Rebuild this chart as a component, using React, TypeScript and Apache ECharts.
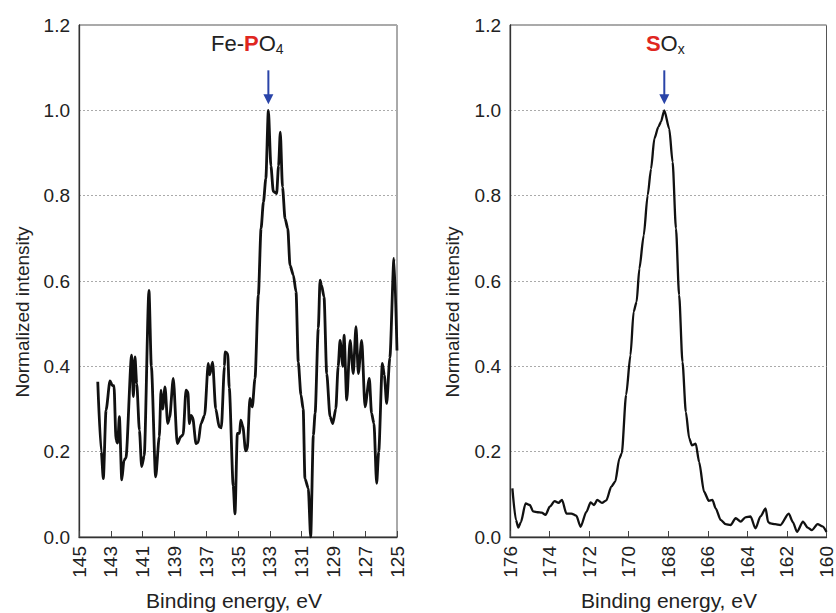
import React, { useEffect, useRef } from "react";
import * as echarts from "echarts";

// Fe-PO4 (P 2p region)
const LEFT_ENERGY = [
  143.82, 143.6, 143.47, 143.3, 143.05, 142.9, 142.8, 142.67, 142.57, 142.46,
  142.31, 142.17, 142.05, 141.69, 141.58, 141.48, 141.37, 141.2, 141.06, 140.9,
  140.6, 140.45, 140.18, 139.95, 139.84, 139.74, 139.59, 139.42, 139.3, 139.07,
  138.82, 138.6, 138.45, 138.27, 138.15, 138.06, 137.95, 137.85, 137.64, 137.5,
  137.33, 137.1, 136.87, 136.78, 136.6, 136.4, 136.18, 136.05, 135.85, 135.82,
  135.65, 135.55, 135.3, 135.19, 135.04, 134.9, 134.83, 134.7, 134.52, 134.42,
  134.25, 134.1, 133.93, 133.72, 133.55, 133.4, 133.25, 133.09, 132.93, 132.78,
  132.57, 132.45, 132.34, 132.2, 132.04, 131.87, 131.73, 131.52, 131.35, 131.21,
  131.04, 130.9, 130.79, 130.58, 130.43, 130.26, 130.15, 129.95, 129.84, 129.75,
  129.59, 129.42, 129.21, 129.04, 128.85, 128.7, 128.58, 128.4, 128.33, 128.16,
  127.95, 127.75, 127.58, 127.43, 127.22, 127.01, 126.74, 126.6, 126.45, 126.28,
  126.15, 125.92, 125.8, 125.65, 125.45, 125.19, 125.0,
];
const LEFT_INTENSITY = [
  0.364, 0.2, 0.137, 0.297, 0.366, 0.355, 0.355, 0.227, 0.22, 0.282,
  0.134, 0.18, 0.185, 0.426, 0.329, 0.422, 0.36, 0.25, 0.165, 0.19,
  0.578, 0.4, 0.141, 0.235, 0.344, 0.3, 0.352, 0.266, 0.28, 0.372,
  0.219, 0.235, 0.24, 0.344, 0.34, 0.266, 0.285, 0.28, 0.219, 0.222,
  0.266, 0.285, 0.407, 0.38, 0.41, 0.3, 0.258, 0.256, 0.4, 0.434,
  0.43, 0.35, 0.12, 0.054, 0.243, 0.243, 0.274, 0.26, 0.202, 0.205,
  0.325, 0.305, 0.372, 0.567, 0.723, 0.785, 0.84, 1.0, 0.87, 0.81,
  0.805, 0.87, 0.949, 0.82, 0.746, 0.723, 0.637, 0.614, 0.575, 0.41,
  0.333, 0.3, 0.137, 0.114, 0.0, 0.239, 0.29, 0.489, 0.602, 0.59,
  0.563, 0.383, 0.282, 0.266, 0.3, 0.4, 0.461, 0.4, 0.473, 0.321,
  0.461, 0.383, 0.493, 0.383, 0.461, 0.305, 0.372, 0.29, 0.266, 0.126,
  0.2, 0.407, 0.38, 0.313, 0.42, 0.653, 0.437,
];

// SOx (S 2p region)
const RIGHT_ENERGY = [
  175.88, 175.7, 175.58, 175.45, 175.21, 175.0, 174.83, 174.6, 174.4, 174.2,
  173.99, 173.74, 173.55, 173.37, 173.15, 172.9, 172.65, 172.43, 172.14, 171.92,
  171.75, 171.59, 171.35, 171.13, 170.88, 170.68, 170.47, 170.35, 170.13, 169.91,
  169.75, 169.6, 169.46, 169.24, 169.04, 168.87, 168.7, 168.5, 168.37, 168.2,
  167.95, 167.78, 167.61, 167.45, 167.28, 167.11, 166.94, 166.8, 166.61, 166.44,
  166.19, 165.95, 165.77, 165.6, 165.35, 165.1, 164.85, 164.59, 164.34, 164.1,
  163.84, 163.59, 163.34, 163.08, 162.95, 162.83, 162.6, 162.33, 161.91, 161.7,
  161.49, 161.19, 160.95, 160.74, 160.45, 160.2, 160.0,
];
const RIGHT_INTENSITY = [
  0.114, 0.04, 0.022, 0.035, 0.079, 0.075, 0.06, 0.058, 0.057, 0.052,
  0.071, 0.084, 0.08, 0.087, 0.055, 0.055, 0.05, 0.024, 0.059, 0.081,
  0.075, 0.087, 0.08, 0.086, 0.118, 0.13, 0.184, 0.196, 0.333, 0.426,
  0.528, 0.551, 0.629, 0.707, 0.801, 0.863, 0.934, 0.961, 0.973, 1.0,
  0.957, 0.879, 0.723, 0.567, 0.41, 0.293, 0.231, 0.215, 0.219, 0.176,
  0.106, 0.085, 0.087, 0.067, 0.04, 0.03, 0.028, 0.044, 0.036, 0.046,
  0.048, 0.02, 0.048, 0.067, 0.035, 0.032, 0.03, 0.028, 0.055, 0.035,
  0.012, 0.036, 0.022, 0.016, 0.03, 0.025, 0.012,
];

const LEFT_RANGE = [125, 145];
const RIGHT_RANGE = [160, 176];
const Y_RANGE = [0, 1.2];
const LEFT_PEAK = [133.09, 1.0];
const RIGHT_PEAK = [168.2, 1.0];
const X_NAME = "Binding energy, eV";
const Y_NAME = "Normalized intensity";

const FONT = "'Liberation Sans', Arial, Helvetica, sans-serif";
const RED = "#e0261f";
const BLUE = "#2a44a8";

export default function App() {
  const ref = useRef<HTMLDivElement>(null);

  useEffect(() => {
    if (!ref.current) return;
    const chart = echarts.init(ref.current, null, { renderer: "svg" });

    const xAxis = (range: number[], gridIndex: number) => ({
      type: "value",
      gridIndex,
      min: range[0],
      max: range[1],
      interval: 2,
      inverse: true,
      axisLine: { show: true, lineStyle: { color: "#333", width: 1.3 } },
      axisTick: { show: true, inside: true, length: 6, lineStyle: { color: "#444", width: 1 } },
      axisLabel: {
        rotate: 90,
        margin: 9,
        fontSize: 19,
        color: "#222",
        fontFamily: FONT,
      },
      splitLine: { show: false },
    });

    const yAxis = (gridIndex: number) => ({
      type: "value",
      gridIndex,
      min: Y_RANGE[0],
      max: Y_RANGE[1],
      interval: 0.2,
      axisLine: { show: true, lineStyle: { color: "#333", width: 1.3 } },
      axisTick: { show: false },
      axisLabel: {
        margin: 9,
        fontSize: 19,
        color: "#222",
        fontFamily: FONT,
        formatter: (v: number) => v.toFixed(1),
      },
      splitLine: { show: true, lineStyle: { color: "#aaa", type: [2, 2], width: 1 } },
    });

    const gridBase = { top: 25, height: 512, width: 318, show: true, borderColor: "#555", borderWidth: 1, backgroundColor: "transparent" };

    chart.setOption({
      animation: false,
      textStyle: { fontFamily: FONT },
      grid: [
        { ...gridBase, left: 79 },
        { ...gridBase, left: 510 },
      ],
      xAxis: [xAxis(LEFT_RANGE, 0), xAxis(RIGHT_RANGE, 1)],
      yAxis: [yAxis(0), yAxis(1)],
      series: [
        {
          type: "line",
          xAxisIndex: 0,
          yAxisIndex: 0,
          data: LEFT_ENERGY.map((e, i) => [e, LEFT_INTENSITY[i]]),
          showSymbol: false,
          smooth: 0.25,
          smoothMonotone: "x",
          lineStyle: { color: "#111", width: 2.8 },
        },
        {
          type: "line",
          xAxisIndex: 1,
          yAxisIndex: 1,
          data: RIGHT_ENERGY.map((e, i) => [e, RIGHT_INTENSITY[i]]),
          showSymbol: false,
          smooth: 0.25,
          smoothMonotone: "x",
          lineStyle: { color: "#111", width: 2.3 },
        },
      ],
    });

    const lp = chart.convertToPixel({ gridIndex: 0 }, LEFT_PEAK) as number[];
    const rp = chart.convertToPixel({ gridIndex: 1 }, RIGHT_PEAK) as number[];

    const arrow = (p: number[]) => [
      {
        type: "line",
        shape: { x1: p[0], y1: p[1] - 40, x2: p[0], y2: p[1] - 14 },
        style: { stroke: BLUE, lineWidth: 2 },
      },
      {
        type: "polygon",
        shape: { points: [[p[0] - 5, p[1] - 16], [p[0] + 5, p[1] - 16], [p[0], p[1] - 6]] },
        style: { fill: BLUE },
      },
    ];

    const richStyle = {
      n: { fontSize: 22, lineHeight: 26, fill: "#222", fontWeight: "normal", fontFamily: FONT, verticalAlign: "middle" },
      p: { fontSize: 22, lineHeight: 26, fill: RED, fontWeight: "bold", fontFamily: FONT, verticalAlign: "middle" },
      s: { fontSize: 14, lineHeight: 14, fill: "#222", fontWeight: "normal", fontFamily: FONT, verticalAlign: "bottom" },
    };

    chart.setOption({
      graphic: [
        ...arrow(lp),
        ...arrow(rp),
        {
          type: "text",
          x: lp[0] - 21,
          y: 30,
          style: { text: "{n|Fe-}{p|P}{n|O}{s|4}", rich: richStyle, align: "center", verticalAlign: "top" },
        },
        {
          type: "text",
          x: rp[0] + 1,
          y: 30,
          style: { text: "{p|S}{n|O}{s|x}", rich: richStyle, align: "center", verticalAlign: "top" },
        },
        {
          type: "text",
          x: 22,
          y: 312,
          rotation: Math.PI / 2,
          style: { text: Y_NAME, fontSize: 19, fill: "#222", fontFamily: FONT, align: "center", verticalAlign: "middle" },
        },
        {
          type: "text",
          x: 452,
          y: 312,
          rotation: Math.PI / 2,
          style: { text: Y_NAME, fontSize: 19, fill: "#222", fontFamily: FONT, align: "center", verticalAlign: "middle" },
        },
        {
          type: "text",
          x: 234,
          y: 600,
          style: { text: X_NAME, fontSize: 21, fill: "#222", fontFamily: FONT, align: "center", verticalAlign: "middle" },
        },
        {
          type: "text",
          x: 669,
          y: 600,
          style: { text: X_NAME, fontSize: 21, fill: "#222", fontFamily: FONT, align: "center", verticalAlign: "middle" },
        },
      ],
    });

    return () => chart.dispose();
  }, []);

  return (
    <div
      ref={ref}
      style={{ position: "absolute", left: 0, top: 0, width: 836, height: 613, background: "#fff" }}
    />
  );
}
